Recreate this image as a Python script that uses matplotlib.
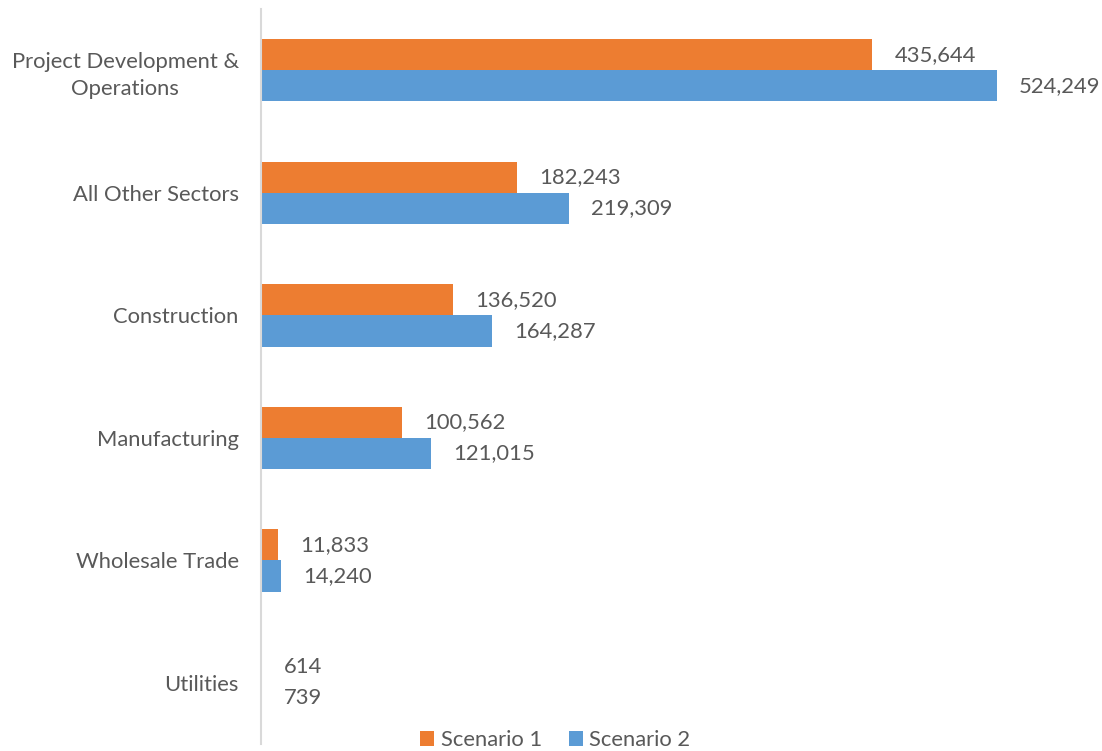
import numpy as np
import matplotlib.pyplot as plt

plt.rcParams['font.family'] = ['Lato', 'DejaVu Sans']

sectors = ['Project Development &\nOperations', 'All Other Sectors', 'Construction',
           'Manufacturing', 'Wholesale Trade', 'Utilities']
scenario_1 = [435644, 182243, 136520, 100562, 11833, 614]
scenario_2 = [524249, 219309, 164287, 121015, 14240, 739]

orange = '#ED7D31'
blue = '#5B9BD5'
grey = '#595959'
fs = 15.8

fig = plt.figure(figsize=(11.02, 7.51), dpi=100)
ax = fig.add_axes([0.2368, 0.0093, 0.7641, 0.9787])

y = np.arange(len(sectors))[::-1].astype(float)
h = 0.255
b1 = ax.barh(y + h / 2, scenario_1, height=h, color=orange, label='Scenario 1')
b2 = ax.barh(y - h / 2, scenario_2, height=h, color=blue, label='Scenario 2')

for bars, vals in ((b1, scenario_1), (b2, scenario_2)):
    for bar, v in zip(bars, vals):
        ax.annotate(f'{v:,}', (bar.get_width(), bar.get_y() + bar.get_height() / 2),
                    xytext=(16, 0), textcoords='offset points',
                    ha='left', va='center', fontsize=fs, color=grey)

ax.set_xlim(0, 600000)
ax.set_ylim(-0.5, len(sectors) - 0.5)
ax.set_yticks(y)
ax.set_yticklabels(sectors, fontsize=fs, color=grey, multialignment='center',
                   linespacing=1.45)
ax.tick_params(axis='y', length=0, pad=16)
ax.set_xticks([])
for s in ('top', 'right', 'bottom'):
    ax.spines[s].set_visible(False)
ax.spines['left'].set_color('#D9D9D9')
ax.spines['left'].set_linewidth(1.5)

fig.legend(handles=[b1, b2], loc='center', bbox_to_anchor=(0.504, 0.0146), ncol=2,
           frameon=False, fontsize=fs, labelcolor=grey, handlelength=0.65,
           handleheight=0.65, handletextpad=0.3, columnspacing=1.2)

fig.savefig('out.png', dpi=100)
